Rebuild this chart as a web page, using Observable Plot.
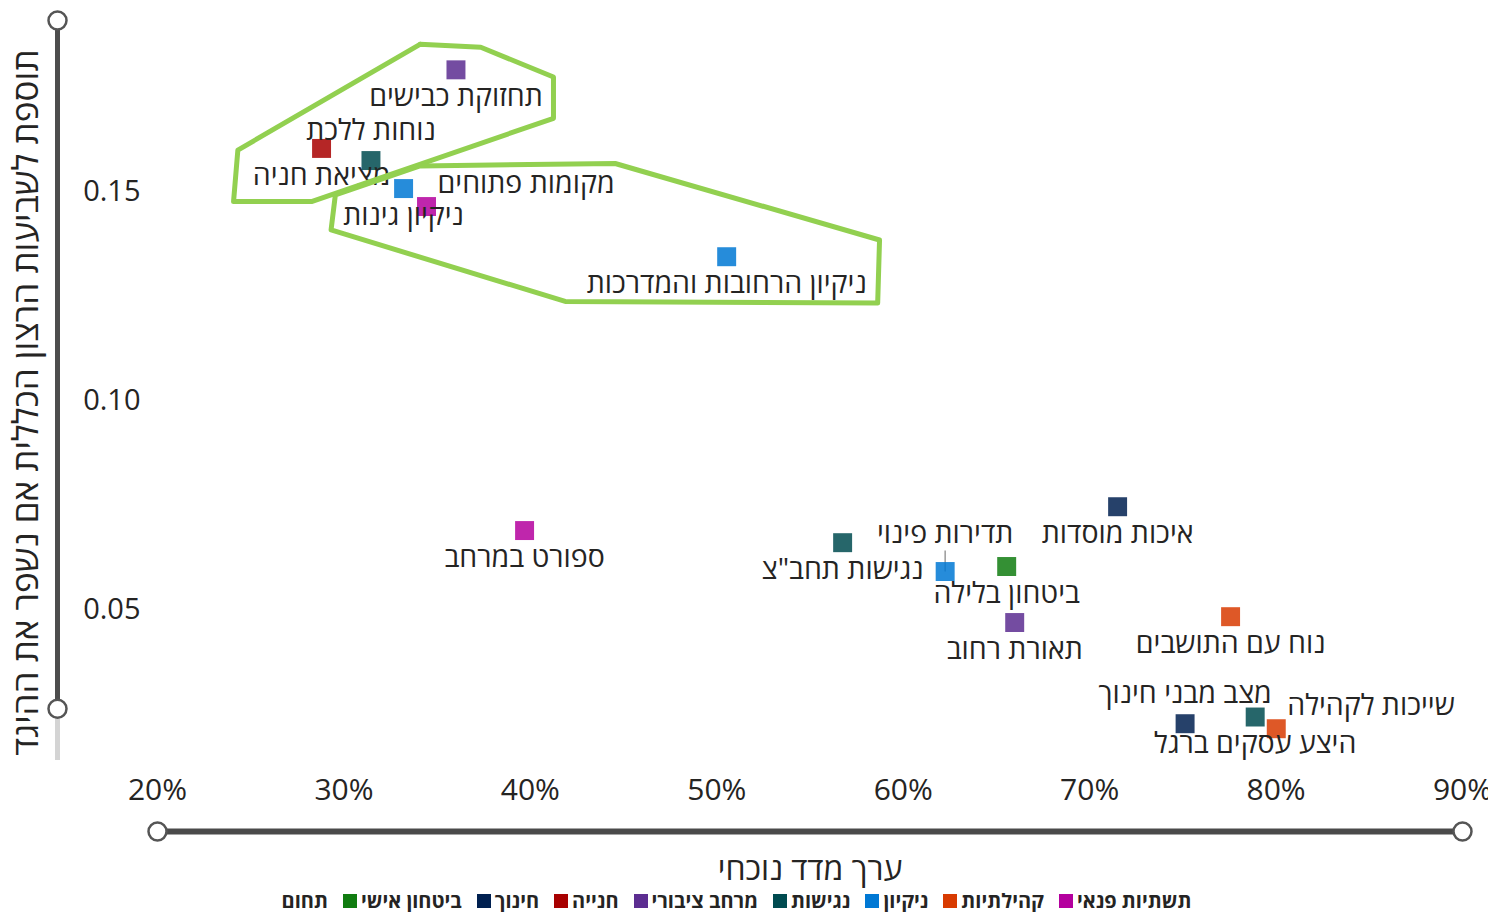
<!DOCTYPE html>
<html>
<head>
<meta charset="utf-8">
<script src="https://cdn.jsdelivr.net/npm/d3@7"></script>
<script src="https://cdn.jsdelivr.net/npm/@observablehq/plot@0.6"></script>
<style>
  body { margin: 0; background: #fff; font-family: "Open Sans", "Liberation Sans", "DejaVu Sans", sans-serif; overflow: hidden; }
  #chart svg { display: block; }
  #legend { display: flex; justify-content: center; align-items: center; height: 23px; line-height: 23px; font-weight: bold; font-size: 20px; color: #252423; direction: ltr; }
  #legend .title { margin-right: 15px; }
  #legend .item { display: flex; align-items: center; margin-right: 15px; }
  #legend .sw { width: 14px; height: 14px; margin-right: 4px; display: inline-block; }
</style>
</head>
<body>
<div id="chart"></div>
<div id="legend"></div>
<script>
// ---- data ----
const statements = ["תחזוקת כבישים", "מציאת חניה", "נוחות ללכת", "ניקיון גינות", "מקומות פתוחים",
  "ניקיון הרחובות והמדרכות", "ספורט במרחב", "נגישות תחב\"צ", "תדירות פינוי", "ביטחון בלילה",
  "תאורת רחוב", "איכות מוסדות", "נוח עם התושבים", "מצב מבני חינוך", "היצע עסקים ברגל", "שייכות לקהילה"];
const domains = ["מרחב ציבורי", "חנייה", "נגישות", "ניקיון", "תשתיות פנאי",
  "ניקיון", "תשתיות פנאי", "נגישות", "ניקיון", "ביטחון אישי",
  "מרחב ציבורי", "חינוך", "קהילתיות", "חינוך", "נגישות", "קהילתיות"];
const currentIndex = [0.3601, 0.2880, 0.3145, 0.3320, 0.3443,
  0.5053, 0.3969, 0.5675, 0.6225, 0.6555,
  0.6598, 0.7150, 0.7756, 0.7512, 0.7888, 0.8001];
const satisfactionGain = [0.1791, 0.1603, 0.1574, 0.1507, 0.1464,
  0.1344, 0.0689, 0.0660, 0.0591, 0.0603,
  0.0469, 0.0746, 0.0483, 0.0227, 0.0243, 0.0215];
const labelPlacement = ["below", "below", "above", "below", "aboveRight",
  "below", "below", "below", "aboveLeader", "below",
  "below", "below", "below", "above", "below", "aboveRight"];

const categoryOrder = ["ביטחון אישי", "חינוך", "חנייה", "מרחב ציבורי", "נגישות", "ניקיון", "קהילתיות", "תשתיות פנאי"];
const categoryColors = ["#107C10", "#002050", "#A80000", "#5C2D91", "#004B50", "#0078D4", "#D83B01", "#B4009E"];

const xTicks = [0.2, 0.3, 0.4, 0.5, 0.6, 0.7, 0.8, 0.9];
const yTicks = [0.05, 0.10, 0.15];
const xTitle = "ערך מדד נוכחי";
const yTitle = "תוספת לשביעות הרצון הכללית אם נשפר את ההיגד";
const legendTitle = "תחום";

const xRange = [0.2, 0.9];
const yRange = [0.0139, 0.1909];
const ySliderHandle = 0.0263;

// highlight shapes (data units)
const highlightA = [[0.3408, 0.1852], [0.3734, 0.1845], [0.4124, 0.1774], [0.4124, 0.1675],
  [0.2826, 0.1476], [0.2408, 0.1476], [0.2431, 0.1599]];
const highlightB = [[0.3408, 0.1561], [0.4455, 0.1567], [0.5873, 0.1384], [0.5863, 0.1233],
  [0.4187, 0.1237], [0.2931, 0.1408], [0.2954, 0.1492]];

// ---- build ----
const points = statements.map((s, i) => ({
  label: s, domain: domains[i], x: currentIndex[i], y: satisfactionGain[i], place: labelPlacement[i]
}));
const W = 1488, H = 889, mT = 20, mB = H - 760, mL = 157, mR = W - 1462;
const pxToY = (yRange[1] - yRange[0]) / (H - mT - mB);
const closed = a => [...a, a[0]];
const textColor = "#252423";
const labelSize = 28.5;

const chart = Plot.plot({
  width: W, height: H,
  marginTop: mT, marginBottom: mB, marginLeft: mL, marginRight: mR,
  style: { fontFamily: '"Open Sans", "Liberation Sans", "DejaVu Sans", sans-serif', color: textColor, background: "#fff" },
  x: { domain: xRange },
  y: { domain: yRange },
  color: { domain: categoryOrder, range: categoryColors },
  marks: [
    Plot.axisX({ ticks: xTicks, tickFormat: d3.format(".0%"), tickSize: 0, tickPadding: 18, fontSize: 30, label: null }),
    Plot.axisY({ ticks: yTicks, tickFormat: d3.format(".2f"), tickSize: 0, tickPadding: 17, fontSize: 29, label: null }),
    // axis titles
    Plot.text([xTitle], { text: d => d, frameAnchor: "bottom", lineAnchor: "middle", dy: 109, fontSize: 32, fill: textColor }),
    Plot.text([yTitle], { text: d => d, frameAnchor: "left", textAnchor: "middle", dx: -131, dy: 12, rotate: -90, fontSize: 35, fill: textColor }),
    // range sliders
    Plot.ruleX([xRange[0]], { y1: () => yRange[0], y2: () => ySliderHandle, dx: -100, stroke: "#d4d4d4", strokeWidth: 5 }),
    Plot.ruleX([xRange[0]], { y1: () => ySliderHandle, y2: () => yRange[1], dx: -100, stroke: "#4d4d4d", strokeWidth: 5 }),
    Plot.dot([yRange[1], ySliderHandle], { x: () => xRange[0], y: d => d, dx: -100, r: 9, fill: "#fff", stroke: "#555", strokeWidth: 2.5 }),
    Plot.ruleY([yRange[0]], { x1: () => xRange[0], x2: () => xRange[1], dy: 71, stroke: "#4a4a4a", strokeWidth: 6 }),
    Plot.dot(xRange, { x: d => d, y: () => yRange[0], dy: 71, r: 9, fill: "#fff", stroke: "#555", strokeWidth: 2.5 }),
    // leader line
    Plot.link(points.filter(p => p.place === "aboveLeader"), {
      x1: "x", x2: "x", y1: "y", y2: d => d.y + 21 * pxToY, stroke: "#9a9a9a", strokeWidth: 1.5
    }),
    // markers
    Plot.dot(points, { x: "x", y: "y", fill: "domain", symbol: "square", r: 10.7, fillOpacity: 0.85 }),
    // labels
    Plot.text(points.filter(p => p.place === "below"), { x: "x", y: "y", text: "label", dy: 27, fontSize: labelSize, fill: textColor }),
    Plot.text(points.filter(p => p.place === "above"), { x: "x", y: "y", text: "label", dy: -30, fontSize: labelSize, fill: textColor }),
    Plot.text(points.filter(p => p.place === "aboveLeader"), { x: "x", y: "y", text: "label", dy: -38, fontSize: labelSize, fill: textColor }),
    Plot.text(points.filter(p => p.place === "aboveRight"), { x: "x", y: "y", text: "label", dx: 11, dy: -23, textAnchor: "start", fontSize: labelSize, fill: textColor }),
    // highlight shapes
    Plot.line(closed(highlightA), { x: d => d[0], y: d => d[1], stroke: "#92D050", strokeWidth: 5, strokeLinejoin: "round" }),
    Plot.line(closed(highlightB), { x: d => d[0], y: d => d[1], stroke: "#92D050", strokeWidth: 5, strokeLinejoin: "round" })
  ]
});
document.getElementById("chart").appendChild(chart);

// legend
const legend = document.getElementById("legend");
const t = document.createElement("span");
t.className = "title"; t.textContent = legendTitle;
legend.appendChild(t);
categoryOrder.forEach((c, i) => {
  const it = document.createElement("span");
  it.className = "item";
  const sw = document.createElement("span");
  sw.className = "sw"; sw.style.background = categoryColors[i];
  const tx = document.createElement("span");
  tx.textContent = c;
  it.appendChild(sw); it.appendChild(tx);
  legend.appendChild(it);
});
</script>
</body>
</html>
